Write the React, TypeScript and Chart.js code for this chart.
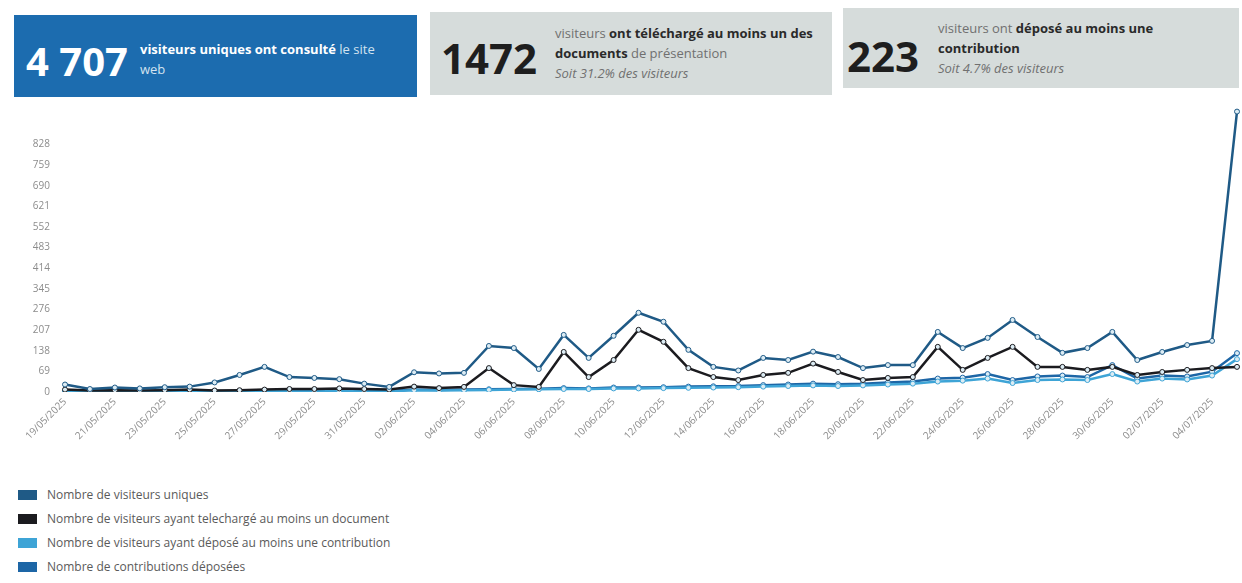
import React, { useEffect, useRef } from "react";
import { Chart, registerables } from "chart.js";

Chart.register(...registerables);

const dates = [
  "19/05/2025", "20/05/2025", "21/05/2025", "22/05/2025", "23/05/2025", "24/05/2025",
  "25/05/2025", "26/05/2025", "27/05/2025", "28/05/2025", "29/05/2025", "30/05/2025",
  "31/05/2025", "01/06/2025", "02/06/2025", "03/06/2025", "04/06/2025", "05/06/2025",
  "06/06/2025", "07/06/2025", "08/06/2025", "09/06/2025", "10/06/2025", "11/06/2025",
  "12/06/2025", "13/06/2025", "14/06/2025", "15/06/2025", "16/06/2025", "17/06/2025",
  "18/06/2025", "19/06/2025", "20/06/2025", "21/06/2025", "22/06/2025", "23/06/2025",
  "24/06/2025", "25/06/2025", "26/06/2025", "27/06/2025", "28/06/2025", "29/06/2025",
  "30/06/2025", "01/07/2025", "02/07/2025", "03/07/2025", "04/07/2025", "05/07/2025",
];

const visiteursUniques = [
  25, 10, 15, 12, 16, 18, 32, 57, 84, 50, 47, 43,
  28, 17, 66, 62, 64, 154, 147, 77, 191, 114, 188, 265,
  235, 141, 84, 72, 114, 107, 135, 117, 80, 90, 90, 201,
  147, 181, 241, 184, 131, 147, 201, 107, 134, 157, 171, 938,
];

const visiteursTelechargement = [
  8, 5, 6, 5, 6, 8, 5, 6, 8, 10, 10, 12,
  10, 8, 18, 13, 17, 80, 23, 17, 134, 50, 107, 208,
  168, 80, 50, 40, 57, 64, 95, 67, 40, 47, 50, 151,
  74, 114, 151, 84, 84, 74, 84, 57, 67, 74, 80, 84,
];

const visiteursContributeurs = [
  3, 2, 3, 2, 3, 4, 2, 2, 3, 2, 2, 3,
  2, 2, 6, 5, 6, 7, 8, 9, 10, 10, 12, 12,
  13, 14, 15, 16, 18, 20, 22, 20, 22, 25, 28, 35,
  38, 45, 30, 40, 42, 40, 60, 35, 45, 42, 55, 110,
];

const contributionsDeposees = [
  4, 3, 4, 3, 4, 5, 3, 3, 4, 3, 3, 4,
  3, 3, 8, 7, 8, 9, 10, 11, 13, 12, 15, 15,
  16, 18, 19, 20, 23, 25, 28, 26, 28, 32, 35, 45,
  48, 60, 40, 52, 55, 50, 90, 45, 55, 52, 68, 130,
];

const yTickValues = [0, 69, 138, 207, 276, 345, 414, 483, 552, 621, 690, 759, 828];

const seriesNames = [
  "Nombre de visiteurs uniques",
  "Nombre de visiteurs ayant telechargé au moins un document",
  "Nombre de visiteurs ayant déposé au moins une contribution",
  "Nombre de contributions déposées",
];

const seriesColors = ["#1f5a86", "#1b1b1f", "#3ea4d6", "#1d66a6"];

const FONT = '"Open Sans", "Noto Sans", sans-serif';

export default function App() {
  const canvasRef = useRef<HTMLCanvasElement | null>(null);

  useEffect(() => {
    const values = [visiteursUniques, visiteursTelechargement, visiteursContributeurs, contributionsDeposees];
    const chart = new Chart(canvasRef.current as HTMLCanvasElement, {
      type: "line",
      data: {
        labels: dates,
        datasets: values.map((v, i) => ({
          label: seriesNames[i],
          data: v,
          borderColor: seriesColors[i],
          backgroundColor: seriesColors[i],
          borderWidth: 2.5,
          pointRadius: 2.5,
          pointBorderWidth: 1,
          pointBackgroundColor: "#dcecf4",
          pointBorderColor: seriesColors[i],
          tension: 0,
        })),
      },
      options: {
        responsive: false,
        animation: false,
        layout: { padding: { top: 8, right: 3, left: 0, bottom: 0 } },
        plugins: { legend: { display: false }, tooltip: { enabled: false } },
        scales: {
          x: {
            grid: { display: false, drawTicks: false },
            border: { display: false },
            ticks: {
              autoSkip: false,
              minRotation: 45,
              maxRotation: 45,
              padding: 4,
              color: "#8c8c8c",
              font: { family: FONT, size: 10 },
              callback: (_v: any, i: number) => (i % 2 === 0 ? dates[i] : ""),
            },
            afterFit: (s: any) => {
              s.height = 73;
              s.paddingLeft = 0;
              s.paddingRight = 0;
            },
          },
          y: {
            min: 0,
            max: 950,
            grid: { display: false, drawTicks: false },
            border: { display: false },
            afterBuildTicks: (s: any) => {
              s.ticks = yTickValues.map((v) => ({ value: v }));
            },
            ticks: {
              padding: 15,
              color: "#8c8c8c",
              font: { family: FONT, size: 10 },
            },
            afterFit: (s: any) => {
              s.width = 65;
              s.paddingTop = 0;
              s.paddingBottom = 0;
            },
          },
        },
      },
    });
    return () => chart.destroy();
  }, []);

  const abs = (o: React.CSSProperties): React.CSSProperties => ({ position: "absolute", ...o });
  const greyNormal = "#707070";
  const greyBold = "#2a2a2a";

  return (
    <div style={abs({ left: 0, top: 0, width: 1242, height: 583, background: "#ffffff", fontFamily: FONT, overflow: "hidden" })}>
      {/* Card 1 */}
      <div style={abs({ left: 14, top: 15, width: 403, height: 82, background: "#1c6caf" })} />
      <div style={abs({ left: 26, top: 41, fontSize: 40, lineHeight: "40px", fontWeight: 700, color: "#ffffff", whiteSpace: "nowrap" })}>4 707</div>
      <div style={abs({ left: 140, top: 39, fontSize: 13, lineHeight: "20px", color: "#ffffff", whiteSpace: "nowrap" })}>
        <div><b>visiteurs uniques ont consulté</b> <span style={{ color: "#d3e3f0" }}>le site</span></div>
        <div style={{ color: "#d3e3f0" }}>web</div>
      </div>

      {/* Card 2 */}
      <div style={abs({ left: 430, top: 12, width: 402, height: 83, background: "#d6dcdb" })} />
      <div style={abs({ left: 441, top: 37, fontSize: 42, lineHeight: "42px", fontWeight: 700, color: "#1e1e1e", whiteSpace: "nowrap" })}>1472</div>
      <div style={abs({ left: 555, top: 23, fontSize: 13, lineHeight: "20px", color: greyNormal, whiteSpace: "nowrap" })}>
        <div>visiteurs <b style={{ color: greyBold }}>ont téléchargé au moins un des</b></div>
        <div><b style={{ color: greyBold }}>documents</b> de présentation</div>
        <div style={{ fontStyle: "italic" }}>Soit 31.2% des visiteurs</div>
      </div>

      {/* Card 3 */}
      <div style={abs({ left: 843, top: 8, width: 396, height: 80, background: "#d6dcdb" })} />
      <div style={abs({ left: 847, top: 35, fontSize: 42, lineHeight: "42px", fontWeight: 700, color: "#1e1e1e", whiteSpace: "nowrap" })}>223</div>
      <div style={abs({ left: 938, top: 18, fontSize: 13, lineHeight: "20px", color: greyNormal, whiteSpace: "nowrap" })}>
        <div>visiteurs ont <b style={{ color: greyBold }}>déposé au moins une</b></div>
        <div><b style={{ color: greyBold }}>contribution</b></div>
        <div style={{ fontStyle: "italic" }}>Soit 4.7% des visiteurs</div>
      </div>

      {/* Chart */}
      <canvas ref={canvasRef} width={1242} height={365} style={abs({ left: 0, top: 100, width: 1242, height: 365 })} />

      {/* Legend */}
      {seriesNames.map((name, i) => (
        <div key={name} style={abs({ left: 18, top: 486 + i * 24, height: 17, display: "flex", alignItems: "center", whiteSpace: "nowrap" })}>
          <div style={{ width: 19, height: 10, background: seriesColors[i], marginRight: 10 }} />
          <span style={{ fontSize: 12, color: "#5a5a5a" }}>{name}</span>
        </div>
      ))}
    </div>
  );
}
